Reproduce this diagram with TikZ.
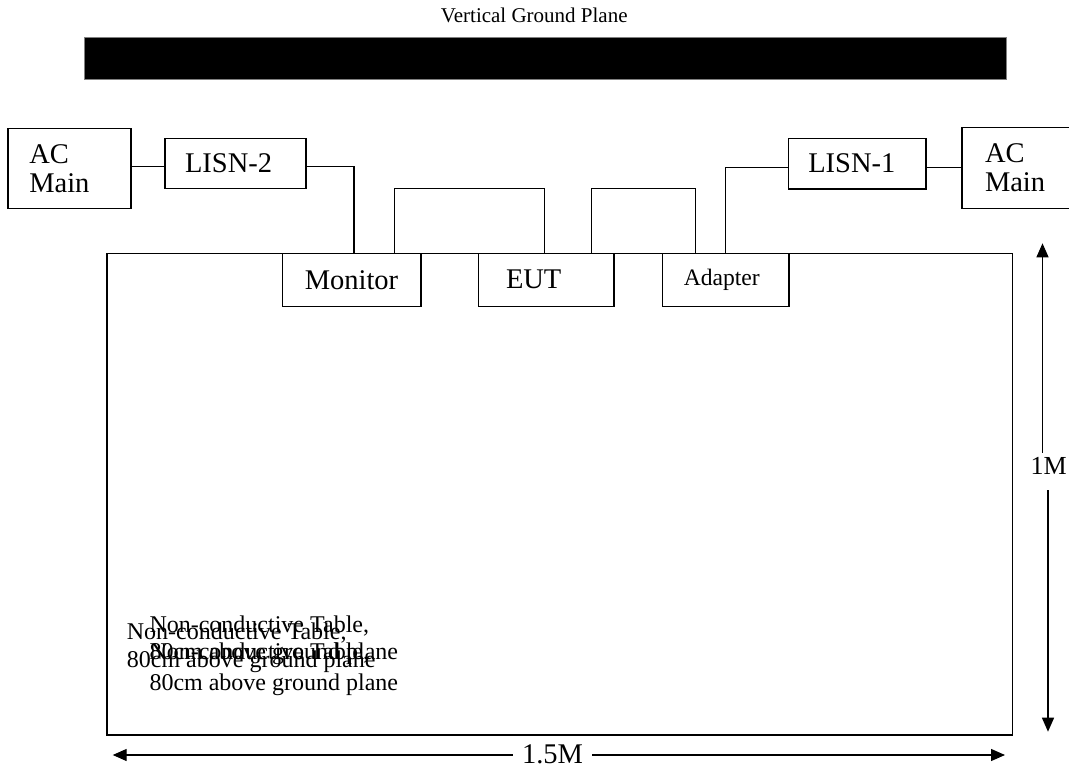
\documentclass[tikz,border=0pt]{standalone}
\usepackage{fontspec}
\setmainfont{Liberation Serif}
\usetikzlibrary{arrows.meta,calc}
\begin{document}
\begin{tikzpicture}[x=1pt,y=-1pt,
  big/.style={font=\fontsize{28.5}{29}\selectfont},
  box/.style={draw, line width=1.6pt, fill=white, inner ysep=0pt, outer sep=0pt, anchor=north west, align=left, big},
  wire/.style={line width=1.4pt},
  dim/.style={line width=1.3pt, -{Triangle[length=14pt,width=12pt]}},
  tabletext/.style={font=\fontsize{24}{24}\selectfont, inner sep=0pt, anchor=base west},
]
\useasboundingbox (0,0) rectangle (1069,768);

% vertical ground plane
\node[font=\fontsize{21}{21}\selectfont, inner sep=0pt, anchor=base] (vgplabel) at (534.3,22.7) {Vertical Ground Plane};
\node[draw=gray, line width=0.8pt, fill=black, minimum width=922pt, minimum height=41.7pt, inner sep=0pt, outer sep=0pt, anchor=north west] (vgp) at (84.3,37.3) {};

% table
\node[draw, line width=1.6pt, minimum width=905.6pt, minimum height=481.7pt, inner sep=0pt, outer sep=0pt, anchor=north west] (table) at (106.7,253.3) {};
\node[tabletext] (ta1) at (126.7,639.3) {Non-conductive Table,};
\node[tabletext] (ta2) at (126.7,667) {80cm above ground plane};
\node[tabletext] (tb1) at (149.3,632.7) {Non-conductive Table,};
\node[tabletext] (tb2) at (149.3,659) {80cm above ground plane};
\node[tabletext] (tc1) at (149.3,659.5) {Non-conductive Table,};
\node[tabletext] (tc2) at (149.3,690) {80cm above ground plane};

% boxes
\node[box, minimum height=80pt, inner xsep=21.6pt, text width=80.1pt] (acl) at (7.7,128.3) {AC\\Main};
\node[box, minimum height=50pt, inner xsep=20pt, text width=100.7pt] (lisn2) at (165,138.3) {LISN-2};
\node[box, minimum height=50.4pt, inner xsep=20pt, text width=97.4pt] (lisn1) at (788.3,138.3) {LISN-1};
\node[box, minimum height=81pt, inner xsep=23.3pt, text width=76.7pt] (acr) at (961.7,127.3) {AC\\Main};
\node[box, minimum height=53pt, minimum width=138.4pt, inner xsep=0pt, align=center] (monitor) at (282.3,253.3) {Monitor};
\node[box, minimum height=53pt, inner xsep=27.4pt, text width=80.4pt] (eut) at (478.6,253.3) {EUT};
\node[box, minimum height=53pt, inner xsep=21.5pt, text width=83.4pt, font=\fontsize{23.6}{24}\selectfont] (adapter) at (662.3,253.3) {Adapter};

% wires
\draw[wire] ([yshift=-3.4pt]acl.east |- lisn2.west) -- ([yshift=-3.4pt]lisn2.west);
\draw[wire] ([yshift=-3.4pt]lisn2.east) -| ([xshift=2.5pt]monitor.north);
\draw[wire] ([xshift=42.8pt]monitor.north) -- ++(0,-64.8) -| ([xshift=-1.7pt]eut.north);
\draw[wire] ([xshift=45.5pt]eut.north) -- ++(0,-64.6) -| ([xshift=-29.8pt]adapter.north);
\draw[wire] (adapter.north) |- ([yshift=-4pt]lisn1.west);
\draw[wire] ([yshift=-3.7pt]lisn1.east) -- ([yshift=-3.7pt]lisn1.east -| acr.west);

% dimensions
\coordinate (utip) at (1042.5,243.3);
\coordinate (dtip) at (1048,731.7);
\coordinate (ltip) at (112.7,755);
\coordinate (rtip) at (1005,755);
\node[font=\fontsize{26}{26}\selectfont, inner sep=0pt, anchor=base east] (t1m) at (1067,474) {1M};
\draw[dim] ($(utip |- t1m.north)+(0,-4)$) -- (utip);
\draw[dim] ($(dtip |- t1m.south)+(0,16)$) -- (dtip);
\node[big, inner xsep=9pt, inner ysep=0pt, anchor=base] (t15) at (552.5,763.3) {1.5M};
\draw[dim] (t15.west |- ltip) -- (ltip);
\draw[dim] (t15.east |- rtip) -- (rtip);
\end{tikzpicture}
\end{document}
